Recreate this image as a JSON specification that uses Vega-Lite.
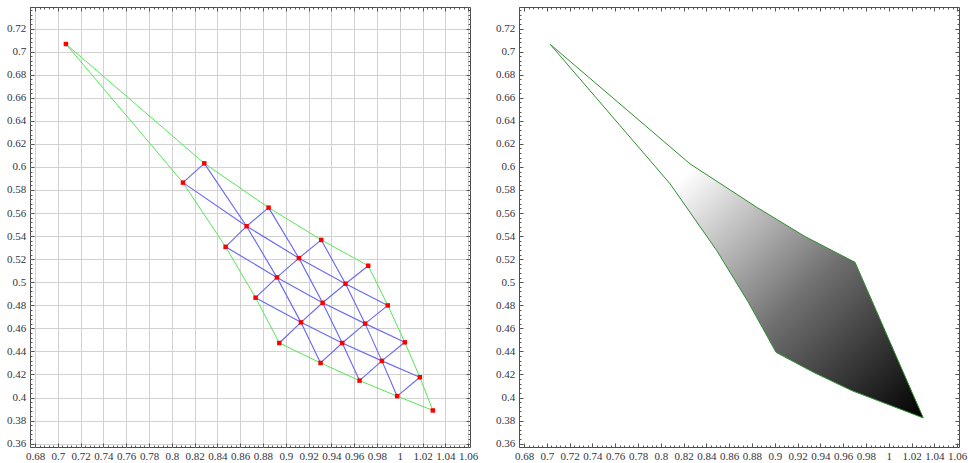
{
  "$schema": "https://vega.github.io/schema/vega-lite/v6.json",
  "padding": {"left": 5, "top": 6, "right": 0, "bottom": 0},
  "bounds": "flush",
  "spacing": 49,
  "config": {
    "font": "Liberation Serif",
    "view": {"stroke": "#4d4d4d", "strokeWidth": 1},
    "axis": {
      "domain": false,
      "labelFont": "Liberation Serif",
      "labelColor": "#333340",
      "tickColor": "#555555",
      "tickWidth": 1,
      "gridColor": "#d2d2d2",
      "gridWidth": 1,
      "labelOverlap": false,
      "labelFlush": false
    }
  },
  "datasets": {
    "nodes": [
      {"i": 0, "j": 0, "x": 0.7071, "y": 0.7066},
      {"i": 1, "j": 0, "x": 0.8285, "y": 0.6031},
      {"i": 2, "j": 0, "x": 0.8849, "y": 0.5647},
      {"i": 3, "j": 0, "x": 0.9311, "y": 0.5367},
      {"i": 4, "j": 0, "x": 0.9723, "y": 0.5143},
      {"i": 0, "j": 1, "x": 0.8098, "y": 0.5864},
      {"i": 1, "j": 1, "x": 0.8656, "y": 0.5486},
      {"i": 2, "j": 1, "x": 0.9115, "y": 0.5209},
      {"i": 3, "j": 1, "x": 0.9524, "y": 0.4987},
      {"i": 4, "j": 1, "x": 0.9895, "y": 0.4799},
      {"i": 0, "j": 2, "x": 0.8472, "y": 0.5307},
      {"i": 1, "j": 2, "x": 0.8922, "y": 0.5042},
      {"i": 2, "j": 2, "x": 0.9323, "y": 0.4822},
      {"i": 3, "j": 2, "x": 0.9696, "y": 0.4641},
      {"i": 4, "j": 2, "x": 1.0044, "y": 0.4479},
      {"i": 0, "j": 3, "x": 0.8735, "y": 0.4866},
      {"i": 1, "j": 3, "x": 0.9133, "y": 0.4652},
      {"i": 2, "j": 3, "x": 0.9495, "y": 0.4473},
      {"i": 3, "j": 3, "x": 0.9843, "y": 0.4318},
      {"i": 4, "j": 3, "x": 1.0176, "y": 0.4176},
      {"i": 0, "j": 4, "x": 0.8943, "y": 0.4473},
      {"i": 1, "j": 4, "x": 0.9305, "y": 0.4300},
      {"i": 2, "j": 4, "x": 0.9647, "y": 0.4147},
      {"i": 3, "j": 4, "x": 0.9977, "y": 0.4012},
      {"i": 4, "j": 4, "x": 1.0290, "y": 0.3888}
    ],
    "gridlines": [
      {"line": "r1", "k": 0, "x": 0.8098, "y": 0.5864},
      {"line": "r1", "k": 1, "x": 0.8656, "y": 0.5486},
      {"line": "r1", "k": 2, "x": 0.9115, "y": 0.5209},
      {"line": "r1", "k": 3, "x": 0.9524, "y": 0.4987},
      {"line": "r1", "k": 4, "x": 0.9895, "y": 0.4799},
      {"line": "r2", "k": 0, "x": 0.8472, "y": 0.5307},
      {"line": "r2", "k": 1, "x": 0.8922, "y": 0.5042},
      {"line": "r2", "k": 2, "x": 0.9323, "y": 0.4822},
      {"line": "r2", "k": 3, "x": 0.9696, "y": 0.4641},
      {"line": "r2", "k": 4, "x": 1.0044, "y": 0.4479},
      {"line": "r3", "k": 0, "x": 0.8735, "y": 0.4866},
      {"line": "r3", "k": 1, "x": 0.9133, "y": 0.4652},
      {"line": "r3", "k": 2, "x": 0.9495, "y": 0.4473},
      {"line": "r3", "k": 3, "x": 0.9843, "y": 0.4318},
      {"line": "r3", "k": 4, "x": 1.0176, "y": 0.4176},
      {"line": "c1", "k": 0, "x": 0.8285, "y": 0.6031},
      {"line": "c1", "k": 1, "x": 0.8656, "y": 0.5486},
      {"line": "c1", "k": 2, "x": 0.8922, "y": 0.5042},
      {"line": "c1", "k": 3, "x": 0.9133, "y": 0.4652},
      {"line": "c1", "k": 4, "x": 0.9305, "y": 0.4300},
      {"line": "c2", "k": 0, "x": 0.8849, "y": 0.5647},
      {"line": "c2", "k": 1, "x": 0.9115, "y": 0.5209},
      {"line": "c2", "k": 2, "x": 0.9323, "y": 0.4822},
      {"line": "c2", "k": 3, "x": 0.9495, "y": 0.4473},
      {"line": "c2", "k": 4, "x": 0.9647, "y": 0.4147},
      {"line": "c3", "k": 0, "x": 0.9311, "y": 0.5367},
      {"line": "c3", "k": 1, "x": 0.9524, "y": 0.4987},
      {"line": "c3", "k": 2, "x": 0.9696, "y": 0.4641},
      {"line": "c3", "k": 3, "x": 0.9843, "y": 0.4318},
      {"line": "c3", "k": 4, "x": 0.9977, "y": 0.4012}
    ],
    "diagonals": [
      {"line": "d1", "k": 0, "x": 0.8285, "y": 0.6031},
      {"line": "d1", "k": 1, "x": 0.8098, "y": 0.5864},
      {"line": "d2", "k": 0, "x": 0.8849, "y": 0.5647},
      {"line": "d2", "k": 1, "x": 0.8656, "y": 0.5486},
      {"line": "d2", "k": 2, "x": 0.8472, "y": 0.5307},
      {"line": "d3", "k": 0, "x": 0.9311, "y": 0.5367},
      {"line": "d3", "k": 1, "x": 0.9115, "y": 0.5209},
      {"line": "d3", "k": 2, "x": 0.8922, "y": 0.5042},
      {"line": "d3", "k": 3, "x": 0.8735, "y": 0.4866},
      {"line": "d4", "k": 0, "x": 0.9723, "y": 0.5143},
      {"line": "d4", "k": 1, "x": 0.9524, "y": 0.4987},
      {"line": "d4", "k": 2, "x": 0.9323, "y": 0.4822},
      {"line": "d4", "k": 3, "x": 0.9133, "y": 0.4652},
      {"line": "d4", "k": 4, "x": 0.8943, "y": 0.4473},
      {"line": "d5", "k": 0, "x": 0.9895, "y": 0.4799},
      {"line": "d5", "k": 1, "x": 0.9696, "y": 0.4641},
      {"line": "d5", "k": 2, "x": 0.9495, "y": 0.4473},
      {"line": "d5", "k": 3, "x": 0.9305, "y": 0.4300},
      {"line": "d6", "k": 0, "x": 1.0044, "y": 0.4479},
      {"line": "d6", "k": 1, "x": 0.9843, "y": 0.4318},
      {"line": "d6", "k": 2, "x": 0.9647, "y": 0.4147},
      {"line": "d7", "k": 0, "x": 1.0176, "y": 0.4176},
      {"line": "d7", "k": 1, "x": 0.9977, "y": 0.4012}
    ],
    "boundary": [
      {"k": 0, "x": 0.7071, "y": 0.7066},
      {"k": 1, "x": 0.8285, "y": 0.6031},
      {"k": 2, "x": 0.8849, "y": 0.5647},
      {"k": 3, "x": 0.9311, "y": 0.5367},
      {"k": 4, "x": 0.9723, "y": 0.5143},
      {"k": 5, "x": 0.9895, "y": 0.4799},
      {"k": 6, "x": 1.0044, "y": 0.4479},
      {"k": 7, "x": 1.0176, "y": 0.4176},
      {"k": 8, "x": 1.0290, "y": 0.3888},
      {"k": 9, "x": 0.9977, "y": 0.4012},
      {"k": 10, "x": 0.9647, "y": 0.4147},
      {"k": 11, "x": 0.9305, "y": 0.4300},
      {"k": 12, "x": 0.8943, "y": 0.4473},
      {"k": 13, "x": 0.8735, "y": 0.4866},
      {"k": 14, "x": 0.8472, "y": 0.5307},
      {"k": 15, "x": 0.8098, "y": 0.5864},
      {"k": 16, "x": 0.7071, "y": 0.7066}
    ],
    "region": [
      {"k": 0, "x": 0.7030, "y": 0.7063},
      {"k": 1, "x": 0.8257, "y": 0.6026},
      {"k": 2, "x": 0.8842, "y": 0.5650},
      {"k": 3, "x": 0.9266, "y": 0.5396},
      {"k": 4, "x": 0.9704, "y": 0.5173},
      {"k": 5, "x": 1.0303, "y": 0.3823},
      {"k": 6, "x": 0.9675, "y": 0.4060},
      {"k": 7, "x": 0.9339, "y": 0.4219},
      {"k": 8, "x": 0.9011, "y": 0.4392},
      {"k": 9, "x": 0.8768, "y": 0.4826},
      {"k": 10, "x": 0.8491, "y": 0.5274},
      {"k": 11, "x": 0.8082, "y": 0.5853},
      {"k": 12, "x": 0.7030, "y": 0.7063}
    ]
  },
  "hconcat": [
    {
      "width": 440,
      "height": 440,
      "resolve": {"axis": {"x": "independent", "y": "independent"}},
      "layer": [
        {
          "data": {"name": "gridlines"},
          "mark": {"type": "line", "color": "#6a6af4", "strokeWidth": 1.15},
          "encoding": {
            "x": {"field": "x", "type": "quantitative", "scale": {"domain": [0.6756, 1.0616], "nice": false, "zero": false},
              "axis": {"orient": "bottom", "title": null, "grid": true,
                "values": [0.676,0.68,0.684,0.688,0.692,0.696,0.7,0.704,0.708,0.712,0.716,0.72,0.724,0.728,0.732,0.736,0.74,0.744,0.748,0.752,0.756,0.76,0.764,0.768,0.772,0.776,0.78,0.784,0.788,0.792,0.796,0.8,0.804,0.808,0.812,0.816,0.82,0.824,0.828,0.832,0.836,0.84,0.844,0.848,0.852,0.856,0.86,0.864,0.868,0.872,0.876,0.88,0.884,0.888,0.892,0.896,0.9,0.904,0.908,0.912,0.916,0.92,0.924,0.928,0.932,0.936,0.94,0.944,0.948,0.952,0.956,0.96,0.964,0.968,0.972,0.976,0.98,0.984,0.988,0.992,0.996,1,1.004,1.008,1.012,1.016,1.02,1.024,1.028,1.032,1.036,1.04,1.044,1.048,1.052,1.056,1.06],
                "gridOpacity": {"condition": {"test": "abs(datum.value*50 - round(datum.value*50)) < 0.01", "value": 1}, "value": 0},
                "tickSize": {"condition": {"test": "abs(datum.value*50 - round(datum.value*50)) < 0.01", "value": -4}, "value": -2},
                "labelFontSize": {"condition": {"test": "abs(datum.value*50 - round(datum.value*50)) < 0.01", "value": 11}, "value": 0},
                "labelExpr": "abs(datum.value*50 - round(datum.value*50)) < 0.01 ? format(datum.value, '.2~f') : ''",
                "labelPadding": 7.5}},
            "y": {"field": "y", "type": "quantitative", "scale": {"domain": [0.3571, 0.7387], "nice": false, "zero": false},
              "axis": {"orient": "left", "title": null, "grid": true,
                "values": [0.36,0.364,0.368,0.372,0.376,0.38,0.384,0.388,0.392,0.396,0.4,0.404,0.408,0.412,0.416,0.42,0.424,0.428,0.432,0.436,0.44,0.444,0.448,0.452,0.456,0.46,0.464,0.468,0.472,0.476,0.48,0.484,0.488,0.492,0.496,0.5,0.504,0.508,0.512,0.516,0.52,0.524,0.528,0.532,0.536,0.54,0.544,0.548,0.552,0.556,0.56,0.564,0.568,0.572,0.576,0.58,0.584,0.588,0.592,0.596,0.6,0.604,0.608,0.612,0.616,0.62,0.624,0.628,0.632,0.636,0.64,0.644,0.648,0.652,0.656,0.66,0.664,0.668,0.672,0.676,0.68,0.684,0.688,0.692,0.696,0.7,0.704,0.708,0.712,0.716,0.72,0.724,0.728,0.732,0.736],
                "gridOpacity": {"condition": {"test": "abs(datum.value*50 - round(datum.value*50)) < 0.01", "value": 1}, "value": 0},
                "tickSize": {"condition": {"test": "abs(datum.value*50 - round(datum.value*50)) < 0.01", "value": -4}, "value": -2},
                "labelFontSize": {"condition": {"test": "abs(datum.value*50 - round(datum.value*50)) < 0.01", "value": 11}, "value": 0},
                "labelExpr": "abs(datum.value*50 - round(datum.value*50)) < 0.01 ? format(datum.value, '.2~f') : ''",
                "labelPadding": 8.3}},
            "detail": {"field": "line"},
            "order": {"field": "k", "type": "quantitative"}
          }
        },
        {
          "data": {"name": "diagonals"},
          "mark": {"type": "line", "color": "#6a6af4", "strokeWidth": 1.15},
          "encoding": {
            "x": {"field": "x", "type": "quantitative", "scale": {"domain": [0.6756, 1.0616], "nice": false, "zero": false},
              "axis": {"orient": "top", "title": null, "grid": false, "labels": false,
                "values": [0.676,0.68,0.684,0.688,0.692,0.696,0.7,0.704,0.708,0.712,0.716,0.72,0.724,0.728,0.732,0.736,0.74,0.744,0.748,0.752,0.756,0.76,0.764,0.768,0.772,0.776,0.78,0.784,0.788,0.792,0.796,0.8,0.804,0.808,0.812,0.816,0.82,0.824,0.828,0.832,0.836,0.84,0.844,0.848,0.852,0.856,0.86,0.864,0.868,0.872,0.876,0.88,0.884,0.888,0.892,0.896,0.9,0.904,0.908,0.912,0.916,0.92,0.924,0.928,0.932,0.936,0.94,0.944,0.948,0.952,0.956,0.96,0.964,0.968,0.972,0.976,0.98,0.984,0.988,0.992,0.996,1,1.004,1.008,1.012,1.016,1.02,1.024,1.028,1.032,1.036,1.04,1.044,1.048,1.052,1.056,1.06],
                "tickSize": {"condition": {"test": "abs(datum.value*50 - round(datum.value*50)) < 0.01", "value": -4}, "value": -2}}},
            "y": {"field": "y", "type": "quantitative", "scale": {"domain": [0.3571, 0.7387], "nice": false, "zero": false},
              "axis": {"orient": "right", "title": null, "grid": false, "labels": false,
                "values": [0.36,0.364,0.368,0.372,0.376,0.38,0.384,0.388,0.392,0.396,0.4,0.404,0.408,0.412,0.416,0.42,0.424,0.428,0.432,0.436,0.44,0.444,0.448,0.452,0.456,0.46,0.464,0.468,0.472,0.476,0.48,0.484,0.488,0.492,0.496,0.5,0.504,0.508,0.512,0.516,0.52,0.524,0.528,0.532,0.536,0.54,0.544,0.548,0.552,0.556,0.56,0.564,0.568,0.572,0.576,0.58,0.584,0.588,0.592,0.596,0.6,0.604,0.608,0.612,0.616,0.62,0.624,0.628,0.632,0.636,0.64,0.644,0.648,0.652,0.656,0.66,0.664,0.668,0.672,0.676,0.68,0.684,0.688,0.692,0.696,0.7,0.704,0.708,0.712,0.716,0.72,0.724,0.728,0.732,0.736],
                "tickSize": {"condition": {"test": "abs(datum.value*50 - round(datum.value*50)) < 0.01", "value": -4}, "value": -2}}},
            "detail": {"field": "line"},
            "order": {"field": "k", "type": "quantitative"}
          }
        },
        {
          "data": {"name": "boundary"},
          "mark": {"type": "line", "color": "#55e855", "strokeWidth": 1},
          "encoding": {
            "x": {"field": "x", "type": "quantitative", "axis": null},
            "y": {"field": "y", "type": "quantitative", "axis": null},
            "order": {"field": "k", "type": "quantitative"}
          }
        },
        {
          "data": {"name": "nodes"},
          "mark": {"type": "square", "color": "#ff0000", "size": 20, "opacity": 1},
          "encoding": {
            "x": {"field": "x", "type": "quantitative", "axis": null},
            "y": {"field": "y", "type": "quantitative", "axis": null}
          }
        }
      ]
    },
    {
      "width": 440,
      "height": 440,
      "resolve": {"axis": {"x": "independent", "y": "independent"}},
      "layer": [
        {
          "data": {"name": "region"},
          "mark": {"type": "line", "strokeOpacity": 0,
            "fill": {"gradient": "linear", "x1": 0.36, "y1": 0.35, "x2": 1, "y2": 1,
              "stops": [{"offset": 0, "color": "#ffffff"}, {"offset": 0.5, "color": "#6e6e6e"}, {"offset": 1, "color": "#000000"}]}},
          "encoding": {
            "x": {"field": "x", "type": "quantitative", "scale": {"domain": [0.6756, 1.0616], "nice": false, "zero": false},
              "axis": {"orient": "bottom", "title": null, "grid": false,
                "values": [0.676,0.68,0.684,0.688,0.692,0.696,0.7,0.704,0.708,0.712,0.716,0.72,0.724,0.728,0.732,0.736,0.74,0.744,0.748,0.752,0.756,0.76,0.764,0.768,0.772,0.776,0.78,0.784,0.788,0.792,0.796,0.8,0.804,0.808,0.812,0.816,0.82,0.824,0.828,0.832,0.836,0.84,0.844,0.848,0.852,0.856,0.86,0.864,0.868,0.872,0.876,0.88,0.884,0.888,0.892,0.896,0.9,0.904,0.908,0.912,0.916,0.92,0.924,0.928,0.932,0.936,0.94,0.944,0.948,0.952,0.956,0.96,0.964,0.968,0.972,0.976,0.98,0.984,0.988,0.992,0.996,1,1.004,1.008,1.012,1.016,1.02,1.024,1.028,1.032,1.036,1.04,1.044,1.048,1.052,1.056,1.06],
                "tickSize": {"condition": {"test": "abs(datum.value*50 - round(datum.value*50)) < 0.01", "value": -4}, "value": -2},
                "labelFontSize": {"condition": {"test": "abs(datum.value*50 - round(datum.value*50)) < 0.01", "value": 11}, "value": 0},
                "labelExpr": "abs(datum.value*50 - round(datum.value*50)) < 0.01 ? format(datum.value, '.2~f') : ''",
                "labelPadding": 7.5}},
            "y": {"field": "y", "type": "quantitative", "scale": {"domain": [0.3571, 0.7387], "nice": false, "zero": false},
              "axis": {"orient": "left", "title": null, "grid": false,
                "values": [0.36,0.364,0.368,0.372,0.376,0.38,0.384,0.388,0.392,0.396,0.4,0.404,0.408,0.412,0.416,0.42,0.424,0.428,0.432,0.436,0.44,0.444,0.448,0.452,0.456,0.46,0.464,0.468,0.472,0.476,0.48,0.484,0.488,0.492,0.496,0.5,0.504,0.508,0.512,0.516,0.52,0.524,0.528,0.532,0.536,0.54,0.544,0.548,0.552,0.556,0.56,0.564,0.568,0.572,0.576,0.58,0.584,0.588,0.592,0.596,0.6,0.604,0.608,0.612,0.616,0.62,0.624,0.628,0.632,0.636,0.64,0.644,0.648,0.652,0.656,0.66,0.664,0.668,0.672,0.676,0.68,0.684,0.688,0.692,0.696,0.7,0.704,0.708,0.712,0.716,0.72,0.724,0.728,0.732,0.736],
                "tickSize": {"condition": {"test": "abs(datum.value*50 - round(datum.value*50)) < 0.01", "value": -4}, "value": -2},
                "labelFontSize": {"condition": {"test": "abs(datum.value*50 - round(datum.value*50)) < 0.01", "value": 11}, "value": 0},
                "labelExpr": "abs(datum.value*50 - round(datum.value*50)) < 0.01 ? format(datum.value, '.2~f') : ''",
                "labelPadding": 8.3}},
            "order": {"field": "k", "type": "quantitative"}
          }
        },
        {
          "data": {"name": "region"},
          "mark": {"type": "line", "color": "#2f8f2f", "strokeWidth": 1},
          "encoding": {
            "x": {"field": "x", "type": "quantitative", "scale": {"domain": [0.6756, 1.0616], "nice": false, "zero": false},
              "axis": {"orient": "top", "title": null, "grid": false, "labels": false,
                "values": [0.676,0.68,0.684,0.688,0.692,0.696,0.7,0.704,0.708,0.712,0.716,0.72,0.724,0.728,0.732,0.736,0.74,0.744,0.748,0.752,0.756,0.76,0.764,0.768,0.772,0.776,0.78,0.784,0.788,0.792,0.796,0.8,0.804,0.808,0.812,0.816,0.82,0.824,0.828,0.832,0.836,0.84,0.844,0.848,0.852,0.856,0.86,0.864,0.868,0.872,0.876,0.88,0.884,0.888,0.892,0.896,0.9,0.904,0.908,0.912,0.916,0.92,0.924,0.928,0.932,0.936,0.94,0.944,0.948,0.952,0.956,0.96,0.964,0.968,0.972,0.976,0.98,0.984,0.988,0.992,0.996,1,1.004,1.008,1.012,1.016,1.02,1.024,1.028,1.032,1.036,1.04,1.044,1.048,1.052,1.056,1.06],
                "tickSize": {"condition": {"test": "abs(datum.value*50 - round(datum.value*50)) < 0.01", "value": -4}, "value": -2}}},
            "y": {"field": "y", "type": "quantitative", "scale": {"domain": [0.3571, 0.7387], "nice": false, "zero": false},
              "axis": {"orient": "right", "title": null, "grid": false, "labels": false,
                "values": [0.36,0.364,0.368,0.372,0.376,0.38,0.384,0.388,0.392,0.396,0.4,0.404,0.408,0.412,0.416,0.42,0.424,0.428,0.432,0.436,0.44,0.444,0.448,0.452,0.456,0.46,0.464,0.468,0.472,0.476,0.48,0.484,0.488,0.492,0.496,0.5,0.504,0.508,0.512,0.516,0.52,0.524,0.528,0.532,0.536,0.54,0.544,0.548,0.552,0.556,0.56,0.564,0.568,0.572,0.576,0.58,0.584,0.588,0.592,0.596,0.6,0.604,0.608,0.612,0.616,0.62,0.624,0.628,0.632,0.636,0.64,0.644,0.648,0.652,0.656,0.66,0.664,0.668,0.672,0.676,0.68,0.684,0.688,0.692,0.696,0.7,0.704,0.708,0.712,0.716,0.72,0.724,0.728,0.732,0.736],
                "tickSize": {"condition": {"test": "abs(datum.value*50 - round(datum.value*50)) < 0.01", "value": -4}, "value": -2}}},
            "order": {"field": "k", "type": "quantitative"}
          }
        }
      ]
    }
  ]
}
